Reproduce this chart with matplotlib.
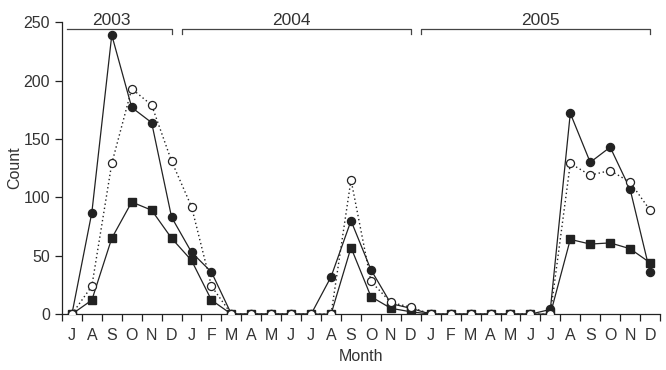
#!/usr/bin/env python3

import matplotlib
matplotlib.use('Agg')
import matplotlib.pyplot as plt

# months Jul 2003 .. Dec 2005
months = ['J', 'A', 'S', 'O', 'N', 'D',
          'J', 'F', 'M', 'A', 'M', 'J', 'J', 'A', 'S', 'O', 'N', 'D',
          'J', 'F', 'M', 'A', 'M', 'J', 'J', 'A', 'S', 'O', 'N', 'D']

filled_circles = [0, 87, 239, 177, 164, 83,
                  53, 36, 0, 0, 0, 0, 0, 32, 80, 38, 9, 5,
                  0, 0, 0, 0, 0, 0, 4, 172, 130, 143, 107, 36]
open_circles = [0, 24, 129, 193, 179, 131,
                92, 24, 0, 0, 0, 0, 0, 0, 115, 28, 10, 6,
                0, 0, 0, 0, 0, 0, 0, 129, 119, 123, 113, 89]
filled_squares = [0, 12, 65, 96, 89, 65,
                  46, 12, 0, 0, 0, 0, 0, 0, 57, 15, 5, 2,
                  0, 0, 0, 0, 0, 0, 0, 64, 60, 61, 56, 44]

years = ['2003', '2004', '2005']
year_spans = [(-0.25, 5), (5.5, 17), (17.5, 29)]
year_label_x = [2, 11, 23.5]

plt.rcParams['font.family'] = ['Liberation Sans', 'DejaVu Sans']
txt = '#333333'
ink = '#222222'

fig = plt.figure(figsize=(6.66, 3.70), dpi=100)
ax = fig.add_axes([0.093, 0.151, 0.898, 0.789])

x = list(range(len(months)))

ax.plot(x, filled_squares, '-', color=ink, lw=0.9, marker='s', ms=5.5,
        mfc=ink, mec=ink, zorder=3)
ax.plot(x, filled_circles, '-', color=ink, lw=0.9, marker='o', ms=5.8,
        mfc=ink, mec=ink, zorder=4)
ax.plot(x, open_circles, color=ink, lw=1.0, ls=(0, (1, 2)), marker='o', ms=5.8,
        mfc='white', mec=ink, mew=0.9, zorder=5)

ax.set_xlim(-0.5, 29.5)
ax.set_ylim(0, 250)

ax.set_xticks(x)
ax.set_xticklabels(months)
ax.set_xticks([i - 0.5 for i in range(len(months) + 1)], minor=True)
ax.tick_params(axis='x', which='major', length=0, pad=10, labelsize=11.5, labelcolor=txt)
ax.tick_params(axis='x', which='minor', length=5, width=0.9, color=ink, direction='out')
ax.set_yticks([0, 50, 100, 150, 200, 250])
ax.tick_params(axis='y', length=5, width=0.9, color=ink, labelsize=11.5, labelcolor=txt)

for s in ['top', 'right']:
    ax.spines[s].set_visible(False)
for s in ['left', 'bottom']:
    ax.spines[s].set_color(ink)
    ax.spines[s].set_linewidth(0.9)

ax.set_xlabel('Month', fontsize=11.5, color=txt, labelpad=4)
ax.set_ylabel('Count', fontsize=11.5, color=txt, labelpad=1)

# year brackets above the data
yb = 244
for i, (a, b) in enumerate(year_spans):
    xs = [a, b]
    ys = [yb, yb]
    if i > 0:
        xs = [a] + xs
        ys = [yb - 4] + ys
    xs = xs + [b]
    ys = ys + [yb - 4]
    ax.plot(xs, ys, '-', color='#444444', lw=0.9, clip_on=False)
    ax.text(year_label_x[i], yb + 1, years[i], ha='center', va='bottom',
            fontsize=12.5, color=txt, clip_on=False)

fig.savefig('out.png', dpi=100)
